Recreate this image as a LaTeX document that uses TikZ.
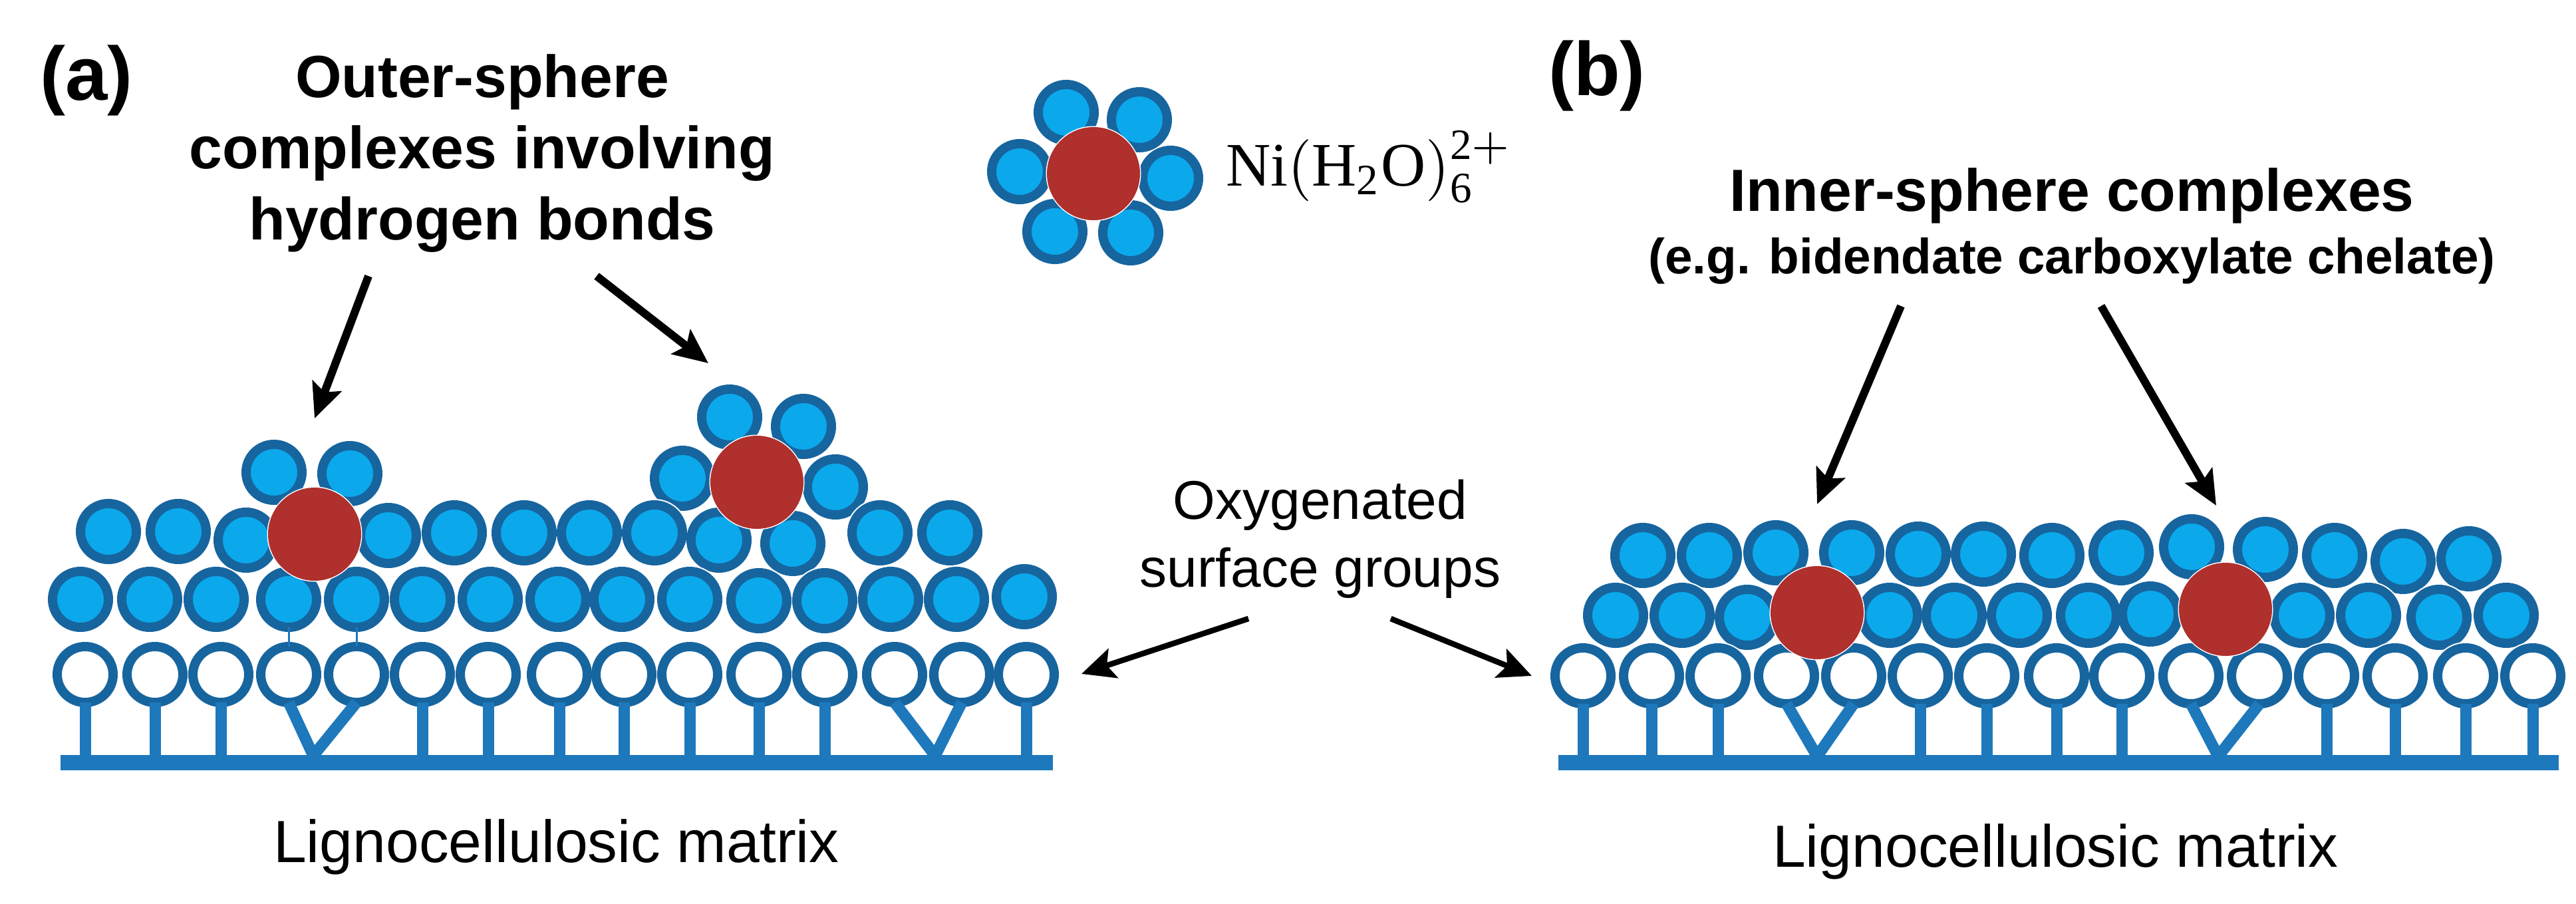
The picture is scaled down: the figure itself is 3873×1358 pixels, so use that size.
\documentclass[tikz,border=0pt]{standalone}
\usepackage{graphicx}
\usepackage{fontspec}
\setmainfont{Liberation Sans}
\setmathrm{Liberation Serif}
\usetikzlibrary{arrows.meta}
\definecolor{wfill}{HTML}{0BA9EC}
\definecolor{wline}{HTML}{17659F}
\definecolor{stemc}{HTML}{1E78BC}
\definecolor{nired}{HTML}{AF302C}
\tikzset{
  x=1pt,y=-1pt,
  water/.style={circle,draw=wline,fill=wfill,line width=14pt,minimum size=84pt,inner sep=0pt,outer sep=0pt},
  surf/.style={circle,draw=wline,fill=white,line width=14pt,minimum size=84pt,inner sep=0pt,outer sep=0pt},
  nickel/.style={circle,fill=nired,minimum size=140pt,inner sep=0pt,outer sep=0pt},
  stemline/.style={draw=stemc,line width=17pt},
  hbond/.style={draw=stemc,line width=3pt},
  matrixbar/.style={rectangle,fill=stemc,minimum height=23pt,inner sep=0pt,outer sep=0pt},
  bigarrow/.style={draw=black,line width=12pt,-{Stealth[length=52pt,width=46pt,inset=10pt]}},
  midarrow/.style={draw=black,line width=8.5pt,-{Stealth[length=50pt,width=46pt,inset=10pt]}},
  paneltag/.style={inner sep=0pt,anchor=base west,font=\fontsize{114}{120}\selectfont\bfseries},
  headline/.style={inner sep=0pt,align=center,anchor=center,font=\fontsize{89.5}{107}\selectfont\bfseries},
  plainlabel/.style={inner sep=0pt,align=center,anchor=center,font=\fontsize{82}{102}\selectfont},
  matrixlabel/.style={inner sep=0pt,anchor=base west,font=\fontsize{89.5}{100}\selectfont},
}
\newcommand{\blobrow}[3]{%
  \foreach \px/\py in {#3} \fill[white] (\px,\py) circle (51pt);
  \foreach \px/\py [count=\i] in {#3} \node[#1] (#2\i) at (\px,\py) {};
}
\begin{document}
\begin{tikzpicture}
\useasboundingbox (0,0) rectangle (3873,1358);
\fill[white] (0,0) rectangle (3873,1358);

% ---------- legend complex
\blobrow{water}{lw}{1603/169,1713/180,1533/258,1760/268,1586/348,1700/350}
\fill[white] (1644,261) circle (71.5pt);
\node[nickel] (lni) at (1644,261) {};
\node[inner sep=0pt,anchor=base west] (lform) at (1843,279) {\scalebox{9.3}{$\mathrm{Ni(H_2O)_6^{2+}}$}};

% ---------- panel (a)
\node[paneltag] (tagA) at (60,150) {(a)};
\node[headline] (headA) at (725,231) {Outer-sphere\\complexes involving\\hydrogen bonds};

\blobrow{water}{at}{412/710,526/712,1097/627,1208/641,1026/719,1256/732}
\blobrow{water}{au}{163/799,268/799,370/812,584/805,683/801,788/801,886/801,984/801,1081/812,1192/817,1323/801,1428/801}
\blobrow{water}{al}{121/901,225/901,325/901,434/901,536/901,635/901,737/901,839/901,935/901,1037/901,1141/903,1240/903,1339/901,1438/901,1540/897}
\blobrow{surf}{ah}{128/1014,233/1014,332/1014,434/1014,536/1014,635/1014,734/1014,841/1014,938/1014,1037/1014,1141/1014,1240/1014,1345/1014,1446/1014,1543/1014}
\draw[hbond] (al4.south) -- (ah4.north);
\draw[hbond] (al5.south) -- (ah5.north);
\fill[white] (473,803) circle (71.5pt);
\fill[white] (1138,725) circle (71.5pt);
\node[nickel] (ani1) at (473,803) {};
\node[nickel] (ani2) at (1138,725) {};

\node[matrixbar,minimum width=1492pt] (barA) at (837,1146) {};
\foreach \k in {1,2,3,6,7,8,9,10,11,12,15}
  \draw[stemline] (ah\k.south) -- (ah\k.south |- barA.north);
\coordinate (vA1) at (471,1136);
\coordinate (vA2) at (1406,1136);
\draw[stemline,line join=miter] (ah4.south) -- (vA1) -- (ah5.south);
\draw[stemline,line join=miter] (ah13.south) -- (vA2) -- (ah14.south);

\coordinate (a1s) at (554,415);
\coordinate (a1e) at (473,629);
\coordinate (a2s) at (897,415);
\coordinate (a2e) at (1065,546);
\draw[bigarrow] (a1s) -- (a1e);
\draw[bigarrow] (a2s) -- (a2e);

\node[matrixlabel] (matA) at (411,1296) {Lignocellulosic matrix};

% ---------- centre label
\node[plainlabel] (oxy) at (1985,810) {Oxygenated\\surface groups};
\coordinate (m1s) at (1877,930);
\coordinate (m1e) at (1626,1013);
\coordinate (m2s) at (2091,930);
\coordinate (m2e) at (2303,1016);
\draw[midarrow] (m1s) -- (m1e);
\draw[midarrow] (m2s) -- (m2e);

% ---------- panel (b)
\node[paneltag] (tagB) at (2328,143) {(b)};
\node[headline] (headB) at (3115,340) {Inner-sphere complexes\\[-13pt]{\fontsize{74.7}{90}\selectfont (e.g. bidendate carboxylate chelate)}};

\blobrow{water}{bu}{2470/835,2570/835,2670/831,2784/831,2884/833,2982/833,3085/835,3189/831,3295/822,3406/826,3510/835,3613/844,3712/840}
\blobrow{water}{bl}{2429/925,2529/925,2627/928,2841/925,2938/925,3036/925,3140/925,3233/923,3461/925,3561/925,3667/928,3768/925}
\blobrow{surf}{bh}{2380/1016,2483/1016,2583/1016,2686/1016,2787/1016,2887/1016,2987/1016,3092/1016,3190/1016,3294/1016,3397/1016,3498/1016,3601/1016,3707/1016,3808/1016}
\fill[white] (2732,921) circle (71.5pt);
\fill[white] (3346,916) circle (71.5pt);
\node[nickel] (bni1) at (2732,921) {};
\node[nickel] (bni2) at (3346,916) {};

\node[matrixbar,minimum width=1504pt] (barB) at (3095,1146.5) {};
\foreach \k in {1,2,3,6,7,8,9,12,13,14,15}
  \draw[stemline] (bh\k.south) -- (bh\k.south |- barB.north);
\coordinate (vB1) at (2732,1137);
\coordinate (vB2) at (3335,1137);
\draw[stemline,line join=miter] (bh4.south) -- (vB1) -- (bh5.south);
\draw[stemline,line join=miter] (bh10.south) -- (vB2) -- (bh11.south);

\coordinate (b1s) at (2858,460);
\coordinate (b1e) at (2732,758);
\coordinate (b2s) at (3159,460);
\coordinate (b2e) at (3332,760);
\draw[bigarrow] (b1s) -- (b1e);
\draw[bigarrow] (b2s) -- (b2e);

\node[matrixlabel] (matB) at (2665,1303) {Lignocellulosic matrix};
\end{tikzpicture}
\end{document}
